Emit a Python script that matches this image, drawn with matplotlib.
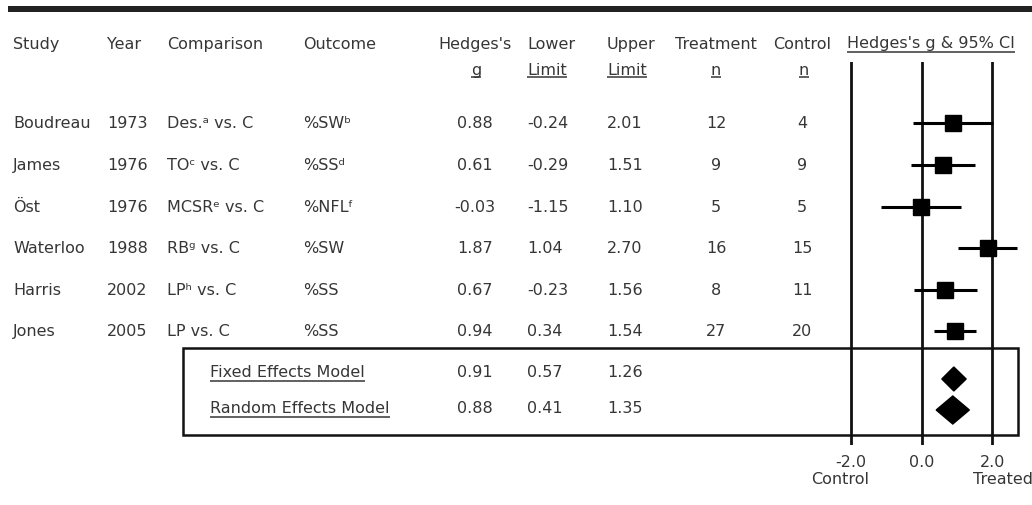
import matplotlib
matplotlib.use("Agg")
import matplotlib.pyplot as plt
from matplotlib.patches import Polygon, Rectangle

# ---------------- data ----------------
studies = ["Boudreau", "James", "Öst", "Waterloo", "Harris", "Jones"]
years = [1973, 1976, 1976, 1988, 2002, 2005]
comparisons = ["Des.ᵃ vs. C", "TOᶜ vs. C", "MCSRᵉ vs. C", "RBᵍ vs. C", "LPʰ vs. C", "LP vs. C"]
outcomes = ["%SWᵇ", "%SSᵈ", "%NFLᶠ", "%SW", "%SS", "%SS"]
hedges_g = [0.88, 0.61, -0.03, 1.87, 0.67, 0.94]
lower_limit = [-0.24, -0.29, -1.15, 1.04, -0.23, 0.34]
upper_limit = [2.01, 1.51, 1.10, 2.70, 1.56, 1.54]
n_treatment = [12, 9, 5, 16, 8, 27]
n_control = [4, 9, 5, 15, 11, 20]

models = ["Fixed Effects Model", "Random Effects Model"]
model_g = [0.91, 0.88]
model_lower = [0.57, 0.41]
model_upper = [1.26, 1.35]

axis_ticks = [-2.0, 0.0, 2.0]
axis_tick_labels = ["-2.0", "0.0", "2.0"]

# ---------------- layout ----------------
W, H = 1032, 505
FS = 11.5
TC = "#363636"
row_y = [123, 165, 207, 248, 290, 331]
model_y = [372, 408]
diamond_y = [379, 410]
diamond_half = [12, 14]

fig = plt.figure(figsize=(W / 100, H / 100), dpi=100)
bg = fig.add_axes([0, 0, 1, 1])
bg.set_xlim(0, W)
bg.set_ylim(H, 0)
bg.axis("off")

# top rule
bg.add_patch(Rectangle((8, 6), W - 8, 6, color="#222222", lw=0))

def txt(x, y, s, ha="left"):
    return bg.text(x, y + 5, s, ha=ha, va="baseline", fontsize=FS, color=TC,
                   family="DejaVu Sans")

# headers
txt(13, 44, "Study")
txt(107, 44, "Year")
txt(167, 44, "Comparison")
txt(303, 44, "Outcome")
txt(475, 44, "Hedges's", ha="center")
txt(527, 44, "Lower")
txt(607, 44, "Upper")
txt(716, 44, "Treatment", ha="center")
txt(802, 44, "Control", ha="center")
h_forest = txt(931, 43, "Hedges's g & 95% CI", ha="center")

u_items = []
u_items.append((txt(476, 70, "g", ha="center"), 77))
u_items.append((txt(527, 70, "Limit"), 77))
u_items.append((txt(607, 70, "Limit"), 77))
u_items.append((txt(716, 70, "n", ha="center"), 77))
u_items.append((txt(804, 70, "n", ha="center"), 77))
u_items.append((h_forest, 52))

for i, y in enumerate(row_y):
    txt(13, y, studies[i])
    txt(107, y, str(years[i]))
    txt(167, y, comparisons[i])
    txt(303, y, outcomes[i])
    txt(475, y, f"{hedges_g[i]:.2f}", ha="center")
    txt(527, y, f"{lower_limit[i]:.2f}")
    txt(607, y, f"{upper_limit[i]:.2f}")
    txt(716, y, str(n_treatment[i]), ha="center")
    txt(802, y, str(n_control[i]), ha="center")

for j, y in enumerate(model_y):
    t = txt(210, y, models[j])
    u_items.append((t, y + 9))
    txt(475, y, f"{model_g[j]:.2f}", ha="center")
    txt(527, y, f"{model_lower[j]:.2f}")
    txt(607, y, f"{model_upper[j]:.2f}")

# summary box
bg.add_patch(Rectangle((183, 348), 1018 - 183, 435 - 348, fill=False,
                       edgecolor="#111111", lw=1.8, zorder=3))

# underlines
fig.canvas.draw()
r = fig.canvas.get_renderer()
inv = bg.transData.inverted()
for t, uy in u_items:
    bb = t.get_window_extent(r)
    (x0, _), (x1, _) = inv.transform([(bb.x0, bb.y0), (bb.x1, bb.y1)])
    bg.plot([x0, x1], [uy, uy], color=TC, lw=1.1, solid_capstyle="butt")

bg.text(840, 479, "Control", ha="center", va="center", fontsize=FS, color=TC)
bg.text(1003, 479, "Treated", ha="center", va="center", fontsize=FS, color=TC)

# ---------------- forest axes ----------------
px0, px1 = 830, 1032
ytop, ybot = 62, 445
fa = fig.add_axes([px0 / W, (H - ybot) / H, (px1 - px0) / W, (ybot - ytop) / H])
fa.patch.set_alpha(0)
scale = 35.3
x_at_zero = 921.7
fa.set_xlim((px0 - x_at_zero) / scale, (px1 - x_at_zero) / scale)
fa.set_ylim(ybot, ytop)
for s in fa.spines.values():
    s.set_visible(False)
fa.set_yticks([])
fa.set_xticks(axis_ticks)
fa.set_xticklabels(axis_tick_labels, fontsize=FS, color=TC)
fa.tick_params(axis="x", length=0, pad=7)

for xv in axis_ticks:
    fa.axvline(xv, color="#111111", lw=2.0, zorder=1)

fa.hlines(row_y, lower_limit, upper_limit, color="black", lw=2.2, zorder=3)
fa.plot(hedges_g, row_y, "s", color="black", ms=11.5, zorder=4)

for j in range(len(models)):
    y = diamond_y[j]
    h = diamond_half[j]
    poly = Polygon([(model_lower[j], y), (model_g[j], y - h),
                    (model_upper[j], y), (model_g[j], y + h)],
                   closed=True, color="black", zorder=4)
    fa.add_patch(poly)

fig.savefig("out.png", dpi=100)
